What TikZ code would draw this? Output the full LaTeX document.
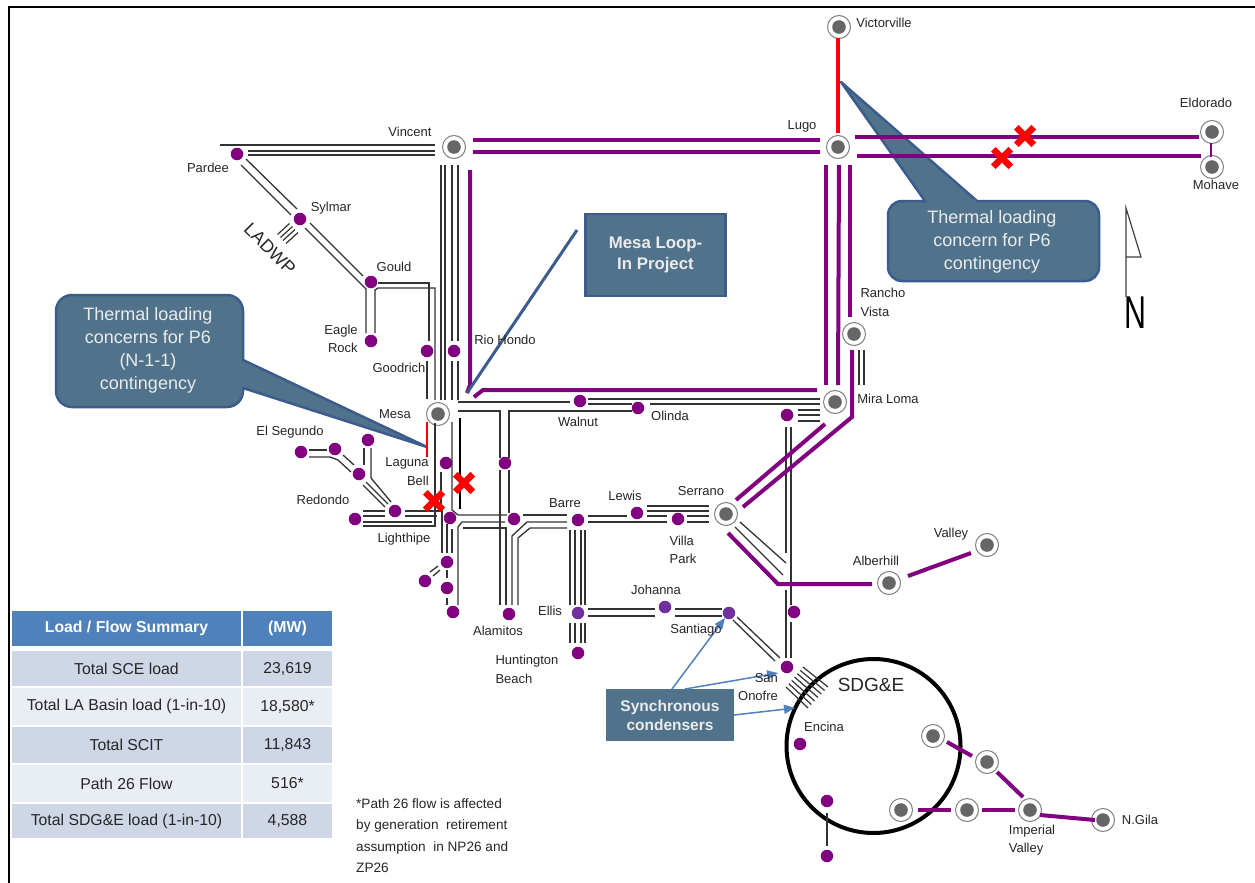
\documentclass[tikz,border=0pt]{standalone}
\usepackage{graphicx}
\usepackage{fontspec}
\setmainfont{Liberation Sans}
\usetikzlibrary{arrows.meta,shapes.misc}
\definecolor{pur}{HTML}{800080}
\definecolor{pur2}{HTML}{7030A0}
\definecolor{callfill}{HTML}{50738B}
\definecolor{callline}{HTML}{3B5C8C}
\definecolor{hdr}{HTML}{4F81BD}
\definecolor{rowa}{HTML}{CFD7E6}
\definecolor{rowb}{HTML}{E9EDF4}
\definecolor{wirec}{HTML}{333333}
\definecolor{labc}{HTML}{262626}
\newcommand\nd[2]{([shift={(#2)}]#1.center)}
\newcommand\fs[2]{\fontsize{#1}{#2}\selectfont}
\tikzset{
  bulk/.style={circle,draw=black!50,line width=1pt,fill=white,minimum size=23pt,inner sep=0pt,
    path picture={\fill[black!60] (path picture bounding box.center) circle (6.8pt);}},
  dot/.style={circle,fill=pur,minimum size=12.5pt,inner sep=0pt},
  dotb/.style={circle,fill=pur2,minimum size=12.5pt,inner sep=0pt},
  w/.style={draw=wirec,line width=1.3pt},
  hv/.style={draw=pur,line width=4pt},
  lab/.style={text=labc,font=\fs{13}{18.5},inner sep=0pt,align=center},
  labl/.style={lab,align=left},
  labr/.style={lab,align=right},
  cell/.style={inner sep=0pt,text=labc,font=\fs{15.8}{18}},
  head/.style={inner sep=0pt,text=white,font=\fs{15.8}{18}\bfseries,fill=hdr},
  callout/.style={fill=callfill,draw=callline,line width=2.5pt,line join=round},
  calltext/.style={text=white!92!black,font=\fs{18}{23},align=center,inner sep=0pt},
  boxtext/.style={text=white!92!black,font=\fs{15.5}{19}\bfseries,align=center,inner sep=0pt},
  xmark/.style={cross out,draw=red,line width=6.5pt,minimum size=11pt,inner sep=0pt},
  syn/.style={-{Triangle[length=11pt,width=9pt]},draw=hdr,line width=1.5pt},
  hat/.style={draw=wirec,line width=1.2pt}
}
\begin{document}
\begin{tikzpicture}[x=1pt,y=-1pt]
\useasboundingbox (0,0) rectangle (1255,883);
\fill[white] (0,0) rectangle (1255,883);
\draw[black,line width=2pt] (9,883) -- (9,7) -- (1255,7);
% callouts
\draw[callout,rounded corners=14pt] (888,201) rectangle (1099,281);
\draw[callout] (925,201) -- (841,82) -- (977,201);
\fill[callfill] (926.5,199) rectangle (975.5,204);
\draw[callout,rounded corners=16pt] (56,295) rectangle (243,407);
\draw[callout] (243,360) -- (427,447) -- (243,388);
\fill[callfill] (240,361.5) rectangle (245,386.5);
\node[calltext] (cr) at (992,242) {Thermal loading\\concern for P6\\contingency};
\node[calltext] (cl) at (148,350.5) {Thermal loading\\concerns for P6\\(N-1-1)\\contingency};
% Mesa box
\node[fill=callfill,draw=callline,line width=2.5pt,minimum width=140pt,minimum height=82pt,inner sep=0pt,boxtext,font=\fs{16.8}{21}\bfseries] (Mp) at (655.5,255) {Mesa Loop-\\In Project};
% Synchronous box
\node[fill=callfill,minimum width=128pt,minimum height=52pt,inner sep=0pt,boxtext] (Sc) at (670,715) {Synchronous\\condensers};
% SDG&E circle
\node[circle,draw=black,line width=4pt,minimum size=174pt,inner sep=0pt] (Sd) at (873.5,746) {};
% bulk stations
\node[bulk] (VV) at (839,27) {};
\node[bulk] (L) at (838,147) {};
\node[bulk] (V) at (454,147) {};
\node[bulk] (E) at (1212,132) {};
\node[bulk] (Mo) at (1212,167) {};
\node[bulk] (RV) at (854,334) {};
\node[bulk] (ML) at (835,402) {};
\node[bulk] (M) at (438,414) {};
\node[bulk] (S) at (726,514) {};
\node[bulk] (Al) at (889,583) {};
\node[bulk] (Va) at (987,545) {};
\node[bulk] (A) at (933,736) {};
\node[bulk] (B) at (987,762) {};
\node[bulk] (C) at (901,810) {};
\node[bulk] (D) at (967,810) {};
\node[bulk] (IV) at (1030,810) {};
\node[bulk] (NG) at (1103,820) {};
% dots
\node[dot] (Pa) at (237,154) {};
\node[dot] (Sy) at (300,219) {};
\node[dot] (Go) at (371,282) {};
\node[dot] (ER) at (371,341) {};
\node[dot] (Gd) at (427,351) {};
\node[dot] (RH) at (454,351) {};
\node[dot] (Wa) at (580,401) {};
\node[dot] (Ol) at (638,408) {};
\node[dot] (Dm) at (787,415) {};
\node[dot] (Lb) at (446,463) {};
\node[dot] (Lo) at (505,463) {};
\node[dot] (Es) at (301,452) {};
\node[dot] (EsB) at (335,449) {};
\node[dot] (EsC) at (368,440) {};
\node[dot] (EsD) at (359,474) {};
\node[dot] (Re) at (355,519) {};
\node[dot] (Lh) at (395,511) {};
\node[dot] (Xs) at (450,518) {};
\node[dot] (Ju) at (514,519) {};
\node[dot] (Ba) at (578,520) {};
\node[dot] (Lw) at (637,513) {};
\node[dot] (Vp) at (678,519) {};
\node[dot] (Lc) at (447,562) {};
\node[dot] (Le) at (425,581) {};
\node[dot] (Ld) at (447,588) {};
\node[dot] (Sb) at (453,612) {};
\node[dot] (Am) at (509,614) {};
\node[dotb] (El) at (578,613) {};
\node[dot] (Hb) at (578,653) {};
\node[dotb] (Jo) at (665,607) {};
\node[dotb] (Sa) at (729,613) {};
\node[dot] (Ds) at (794,612) {};
\node[dot] (So) at (787,667) {};
\node[dot] (En) at (800,744) {};
\node[dot] (Ea) at (827,801) {};
\node[dot] (Ec) at (827,856) {};
% black wires
\draw[w] \nd{Pa}{-17,-9} -- \nd{V}{-19,-2};
\draw[w] \nd{Pa}{11,-3} -- \nd{V}{-19,4};
\draw[w] \nd{Pa}{11,1} -- \nd{V}{-19,8};
\draw[w] \nd{Pa}{9,5} -- \nd{Sy}{-3,-10};
\draw[w] \nd{Pa}{4,11} -- \nd{Sy}{-9,-4};
\draw[w] \nd{Sy}{10,4} -- \nd{Go}{-8,-6};
\draw[w] \nd{Sy}{5,9} -- \nd{Go}{-5,7} -- \nd{ER}{-5,-8};
\draw[w] \nd{ER}{4,-8} -- \nd{Go}{4,8} -- \nd{Go}{7,6} -| \nd{M}{-3,-14};
\draw[w] \nd{Go}{7,1} -| \nd{Gd}{2,-10};
\draw[w] \nd{Gd}{0,10} -- \nd{M}{-11,-15};
\draw[w] \nd{V}{-13,18} -- \nd{M}{3,-14};
\draw[w] \nd{V}{-9,18} -- \nd{M}{7,-14};
\draw[w] \nd{V}{-2,18} -- \nd{RH}{-2,-10};
\draw[w] \nd{V}{4,18} -- \nd{RH}{4,-10};
\draw[w] \nd{RH}{-2,10} -- \nd{M}{14,-14};
\draw[w] \nd{RH}{4,10} -- \nd{M}{20,-14};
\draw[w] \nd{RV}{5,16} -- \nd{ML}{24,-17};
\draw[w] \nd{RV}{10,16} -- \nd{ML}{29,-17};
\draw[w] \nd{Wa}{8,-2} -- \nd{ML}{-15,-3};
\draw[w] \nd{Ol}{12,-4} -- \nd{ML}{-15,2};
\draw[w] \nd{Wa}{8,3} -- \nd{Ol}{-6,-4};
\draw[w] \nd{M}{20,-12} -- \nd{Wa}{-10,1};
\draw[w] \nd{M}{20,-3} -| \nd{Lo}{-5,-5};
\draw[w] \nd{Ol}{-6,3} -| \nd{Lo}{4,-5};
\draw[w] \nd{Lo}{-5,7} -- \nd{Am}{-9,-9};
\draw[w] \nd{Lo}{4,7} -- \nd{Ju}{-5,-6};
\draw[w] \nd{M}{14,8} -- \nd{Xs}{2,-8} -- \nd{Xs}{8,-3} -- \nd{Ju}{-7,-4};
\draw[w] \nd{Sb}{5,-7} -- \nd{Xs}{8,9} -- \nd{Xs}{12,4} -- \nd{Ju}{-9,3};
\draw[w] \nd{Xs}{13,10} -| \nd{Am}{-3,-9};
\draw[w] \nd{Ju}{9,-4} -- \nd{Ba}{-11,-5};
\draw[w] \nd{Am}{3,-9} -- \nd{Am}{3,-78} -- \nd{Ju}{13,3} -- \nd{Ba}{-11,2};
\draw[w] \nd{Am}{9,-9} -- \nd{Am}{9,-76} -- \nd{Ju}{16,9} -- \nd{Ba}{-11,8};
\draw[w] \nd{M}{-3,9} |- \nd{Re}{8,7};
\draw[w] \nd{Re}{8,3} -- \nd{Xs}{-18,4};
\draw[w] \nd{Re}{8,-8} -- \nd{Lh}{-10,0};
\draw[w] \nd{Re}{8,-3} -- \nd{Lh}{-10,5};
\draw[w] \nd{Lh}{10,0} -| \nd{Lc}{-5,-9};
\draw[w] \nd{Lh}{10,5} -- \nd{Xs}{-13,-2};
\draw[w] \nd{Lb}{-5,9} -- \nd{Xs}{-9,-7};
\draw[w] \nd{Xs}{-3,6} -- \nd{Lc}{0,-9};
\draw[w] \nd{Xs}{2,11} -- \nd{Lc}{5,-9};
\draw[w] \nd{Lc}{0,8} -- \nd{Ld}{0,-10};
\draw[w] \nd{Ld}{0,10} -- \nd{Sb}{-6,-7};
\draw[w] \nd{Le}{5,-9} -- \nd{Lc}{-9,4};
\draw[w] \nd{Le}{8,-5} -- \nd{Lc}{-7,8};
\draw[w] \nd{Es}{8,-2} -- \nd{EsB}{-8,1};
\draw[w] \nd{Es}{8,5} -- \nd{EsB}{-5,8} -- \nd{EsB}{3,11} -- \nd{EsD}{-8,-2};
\draw[w] \nd{EsB}{8,6} -- \nd{EsD}{-5,-9};
\draw[w] \nd{EsC}{-4,8} -- \nd{EsD}{5,-9};
\draw[w] \nd{EsC}{3,8} -- \nd{EsC}{3,38} -- \nd{Lh}{-4,-9};
\draw[w] \nd{EsD}{7,8} -- \nd{Lh}{-7,-7};
\draw[w] \nd{EsD}{4,11} -- \nd{Lh}{-10,-4};
\foreach \o in {-8,-3,3,7} {
  \draw[w] \nd{Ba}{\o,10} -- \nd{El}{\o,-8};
  \draw[w] \nd{El}{\o,10} -- \nd{Hb}{\o,-10};
}
\draw[w] \nd{Ba}{10,-4} -- \nd{Lw}{-10,3};
\draw[w] \nd{Ba}{10,2} -- \nd{Vp}{-11,3};
\draw[w] \nd{Lw}{10,-7} -- \nd{S}{-17,-8};
\draw[w] \nd{Lw}{10,-2} -- \nd{S}{-17,-3};
\draw[w] \nd{Lw}{10,3} -- \nd{Vp}{-11,-3};
\draw[w] \nd{Vp}{9,-3} -- \nd{S}{-17,2};
\draw[w] \nd{Vp}{9,3} -- \nd{S}{-17,8};
\draw[w] \nd{El}{10,-4} -- \nd{Jo}{-10,2};
\draw[w] \nd{El}{10,3} -- \nd{Jo}{-10,9};
\draw[w] \nd{Jo}{10,2} -- \nd{Sa}{-7,-4};
\draw[w] \nd{Jo}{10,9} -- \nd{Sa}{-7,3};
\draw[w] \nd{Sa}{8,4} -- \nd{So}{-7,-9};
\draw[w] \nd{Sa}{4,7} -- \nd{So}{-12,-6};
\draw[w] \nd{S}{14,8} -- \nd{So}{-1,-104};
\draw[w] \nd{S}{9,13} -- \nd{So}{-4,-92};
\draw[w] \nd{Dm}{-1,12} -- \nd{So}{-1,-114};
\draw[w] \nd{So}{-1,-77} -- \nd{So}{-1,-9};
\draw[w] \nd{Dm}{4,12} -- \nd{Ds}{-3,-7};
\draw[w] \nd{Ds}{-3,10} -- \nd{So}{4,-9};
\draw[w] \nd{Dm}{11,-5} -- \nd{ML}{-15,8};
\draw[w] \nd{Dm}{11,0} -- \nd{ML}{-15,13};
\draw[w] \nd{Dm}{11,6} -- \nd{ML}{-15,19};
\draw[w] \nd{Ea}{0,12} -- \nd{Ec}{0,-10};
% LADWP strokes
\foreach \a/\b in {-16.5/10,-13.5/13,-11/16,-8/19} {
  \pgfmathsetmacro\xa{\a-6}\pgfmathsetmacro\ya{\b+5.5}
  \pgfmathsetmacro\xb{\a+6}\pgfmathsetmacro\yb{\b-5.5}
  \draw[hat] \nd{Sy}{\xa,\ya} -- \nd{Sy}{\xb,\yb};
}
% hatch at San Onofre
\foreach \i in {0,...,6} {
  \pgfmathsetmacro\xa{-1+2.83*\i}\pgfmathsetmacro\ya{20-3.33*\i}
  \pgfmathsetmacro\xb{21+3.33*\i}\pgfmathsetmacro\yb{41-3.5*\i}
  \draw[hat] \nd{So}{\xa,\ya} -- \nd{So}{\xb,\yb};
}
% purple wires
\draw[hv] \nd{V}{16,23} -- \nd{M}{32,-29} -- \nd{M}{29,-21};
\draw[hv] \nd{M}{36,-17} -- \nd{M}{45,-24} -- \nd{ML}{-18,-12};
\draw[hv] \nd{V}{19,-7} -- \nd{L}{-18,-7};
\draw[hv] \nd{V}{19,5} -- \nd{L}{-18,5};
\draw[hv] \nd{L}{17,-10} -- \nd{E}{-13,5};
\draw[hv] \nd{L}{19,9} -- \nd{Mo}{-11,-11};
\draw[draw=pur,line width=1.2pt] \nd{E}{-1,11} -- \nd{Mo}{-1,-10};
\draw[draw=red,line width=3.8pt] \nd{VV}{-1,11} -- \nd{L}{0,-14};
\draw[hv] \nd{L}{-12,18} -- \nd{ML}{-9,-17};
\draw[hv] \nd{L}{1,18} -- \nd{ML}{3,-17};
\draw[hv] \nd{L}{12,18} -- \nd{RV}{-4,-17};
\draw[hv] \nd{RV}{-2,16} -- \nd{ML}{17,15} -- \nd{S}{17,-7};
\draw[hv] \nd{ML}{-10,22} -- \nd{S}{10,-14};
\draw[hv] \nd{S}{2,19} -- \nd{Al}{-111,1} -- \nd{Al}{-17,1};
\draw[hv] \nd{Al}{19,-7} -- \nd{Va}{-16,8};
\draw[hv] \nd{A}{14,6} -- \nd{B}{-15,-6};
\draw[hv] \nd{B}{10,10} -- \nd{IV}{-7,-13};
\draw[hv] \nd{C}{17,0} -- \nd{D}{-16,0};
\draw[hv] \nd{D}{15,0} -- \nd{IV}{-15,0};
\draw[hv] \nd{IV}{10,5} -- \nd{NG}{-8,0};
% Mesa loop-in leader, red and thick black
\draw[draw=callline,line width=3pt] \nd{Mp}{-78.5,-25} -- \nd{M}{29,-21};
\draw[draw=red,line width=2.8pt] \nd{M}{-11,8} -- \nd{M}{-11,43};
\draw[draw=black,line width=2.2pt] \nd{M}{22,4} -- \nd{M}{22,95};
% synchronous condenser arrows
\draw[syn] \nd{Sc}{2,-26} -- \nd{Sa}{-4,5};
\draw[syn] \nd{Sc}{15,-26} -- \nd{So}{-9,6};
\draw[syn] \nd{Sc}{64,0} -- \nd{Sd}{-78.5,-38};
% red X marks
\node[xmark] (X1) at (1025,136) {};
\node[xmark] (X2) at (1002,158) {};
\node[xmark] (X3) at (464,483) {};
\node[xmark] (X4) at (434,501) {};
% labels
\node[lab] (t1) at (884,23) {Victorville};
\node[lab] (t2) at (410,132) {Vincent};
\node[lab] (t3) at (802,126) {Lugo};
\node[lab] (t4) at (1206,103) {Eldorado};
\node[lab] (t5) at (1216,185) {Mohave};
\node[lab] (t6) at (208,168) {Pardee};
\node[lab] (t7) at (331,208) {Sylmar};
\node[lab] (t8) at (394,267) {Gould};
\node[labr] (t9) at (341,339) {Eagle\\Rock};
\node[lab] (t10) at (399,368) {Goodrich};
\node[lab] (t11) at (505,340) {Rio Hondo};
\node[labl] (t12) at (883,302.5) {Rancho\\Vista};
\node[lab] (t13) at (888,399) {Mira Loma};
\node[lab] (t14) at (395,414) {Mesa};
\node[lab] (t15) at (578,422) {Walnut};
\node[lab] (t16) at (670,416) {Olinda};
\node[lab] (t17) at (290,432) {El Segundo};
\node[labr] (t18) at (407,471.5) {Laguna\\Bell};
\node[lab] (t19) at (323,500) {Redondo};
\node[lab] (t20) at (404,539) {Lighthipe};
\node[lab] (t21) at (565,503) {Barre};
\node[lab] (t22) at (625,496) {Lewis};
\node[lab] (t23) at (701,491) {Serrano};
\node[labl] (t24) at (683,550) {Villa\\Park};
\node[lab] (t25) at (656,590) {Johanna};
\node[lab] (t26) at (550,611) {Ellis};
\node[lab] (t27) at (696,630) {Santiago};
\node[lab] (t28) at (498,631) {Alamitos};
\node[labl] (t29) at (527,669.5) {Huntington\\Beach};
\node[labr] (t30) at (758,687) {San\\Onofre};
\node[lab,font=\fs{19}{22}] (t31) at (871,685) {SDG\&E};
\node[lab] (t32) at (824,727) {Encina};
\node[lab] (t33) at (876,561) {Alberhill};
\node[lab] (t34) at (951,534) {Valley};
\node[labl] (t35) at (1032,840) {Imperial\\Valley};
\node[lab] (t36) at (1140,820) {N.Gila};
\node[lab,font=\fs{18}{20},rotate=-45] (t37) at (270,249) {LADWP};
\node[labl,anchor=north west,font=\fs{13.6}{21.5}] (t38) at (356,798) {*Path 26 flow is affected\\by generation\ \ retirement\\assumption\ \ in NP26 and\\ZP26};
% table
\node[head,minimum width=229pt,minimum height=35pt] (h1) at (126.5,628.5) {Load / Flow Summary};
\node[head,minimum width=89pt,minimum height=35pt] (h2) at (287.5,628.5) {(MW)};
\node[cell,fill=rowa,minimum width=229pt,minimum height=35pt] (a1) at (126.5,668.5) {Total SCE load};
\node[cell,fill=rowa,minimum width=89pt,minimum height=35pt] (b1) at (287.5,668.5) {23,619};
\node[cell,fill=rowb,minimum width=229pt,minimum height=37pt] (a2) at (126.5,706.5) {Total LA Basin load (1-in-10)};
\node[cell,fill=rowb,minimum width=89pt,minimum height=37pt] (b2) at (287.5,706.5) {18,580*};
\node[cell,fill=rowa,minimum width=229pt,minimum height=36pt] (a3) at (126.5,745) {Total SCIT};
\node[cell,fill=rowa,minimum width=89pt,minimum height=36pt] (b3) at (287.5,745) {11,843};
\node[cell,fill=rowb,minimum width=229pt,minimum height=37pt] (a4) at (126.5,783.5) {Path 26 Flow};
\node[cell,fill=rowb,minimum width=89pt,minimum height=37pt] (b4) at (287.5,783.5) {516*};
\node[cell,fill=rowa,minimum width=229pt,minimum height=34pt] (a5) at (126.5,821) {Total SDG\&E load (1-in-10)};
\node[cell,fill=rowa,minimum width=89pt,minimum height=34pt] (b5) at (287.5,821) {4,588};
% north arrow
\draw[black!75,line width=1.2pt] (1126,297) -- (1126,208) -- (1141,257) -- (1126,257);
\node[inner sep=0pt,font=\fs{46}{46}] (nn) at (1135,313) {\scalebox{.66}[1]{N}};
\end{tikzpicture}
\end{document}
